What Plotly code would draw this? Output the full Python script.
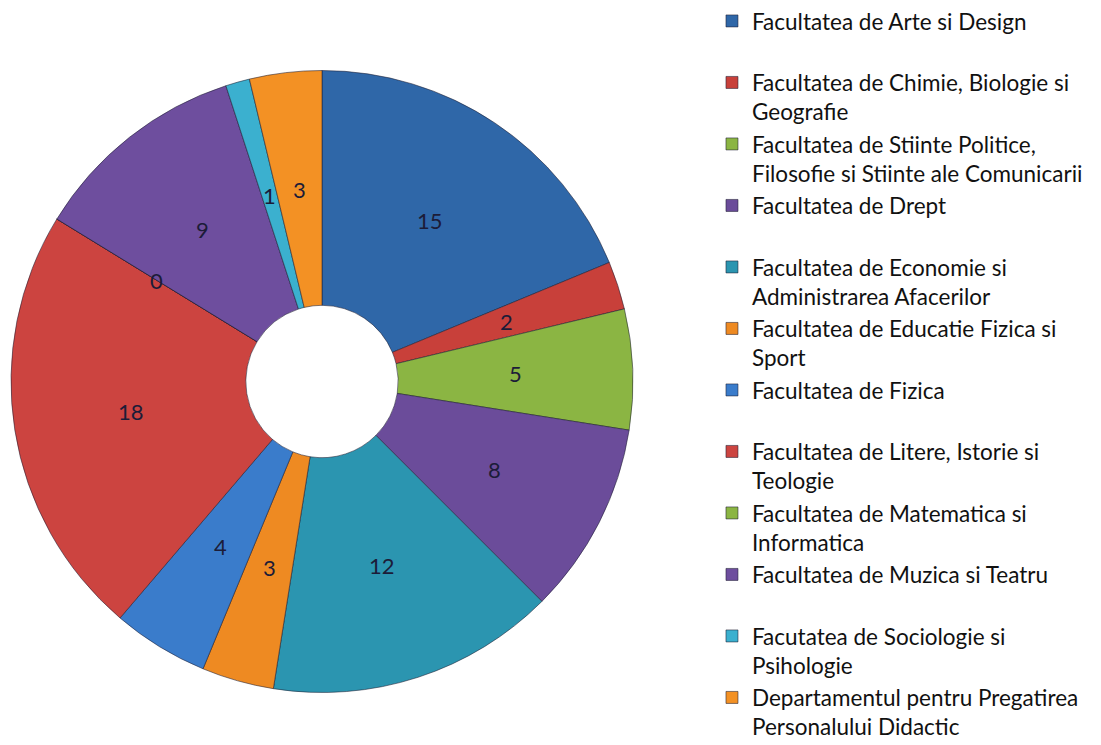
import math

import plotly.graph_objects as go

faculties = [
    "Facultatea de Arte si Design",
    "Facultatea de Chimie, Biologie si<br>Geografie",
    "Facultatea de Stiinte Politice,<br>Filosofie si Stiinte ale Comunicarii",
    "Facultatea de Drept",
    "Facultatea de Economie si<br>Administrarea Afacerilor",
    "Facultatea de Educatie Fizica si<br>Sport",
    "Facultatea de Fizica",
    "Facultatea de Litere, Istorie si<br>Teologie",
    "Facultatea de Matematica si<br>Informatica",
    "Facultatea de Muzica si Teatru",
    "Facutatea de Sociologie si<br>Psihologie",
    "Departamentul pentru Pregatirea<br>Personalului Didactic",
]
counts = [15, 2, 5, 8, 12, 3, 4, 18, 0, 9, 1, 3]
colors = [
    "#2F67A8", "#C8403A", "#8BB543", "#6B4C9A", "#2B95B0", "#EE8A22",
    "#3A7CCB", "#CC4440", "#8BB543", "#6E4E9E", "#3BB0CF", "#F39124",
]

FONT = "Lato, 'Open Sans', sans-serif"
TEXT = "#1C1C38"

# keep every legend entry two lines tall, like the original
legend_labels = [f if "<br>" in f else f + "<br> " for f in faculties]

W, H = 1101, 745
cx, cy, R = 314, 373.5, 311
hole = 0.245

fig = go.Figure(
    go.Pie(
        labels=legend_labels,
        values=counts,
        sort=False,
        direction="clockwise",
        rotation=0,
        hole=hole,
        marker=dict(colors=colors, line=dict(color="rgba(30,30,50,0.55)", width=1)),
        textinfo="none",
        domain=dict(x=[(cx - R) / W, (cx + R) / W], y=[(H - cy - R) / H, (H - cy + R) / H]),
    )
)

# value labels sit at the middle of the ring, at each slice's mid angle
total = sum(counts)
annotations = []
cum = 0
r_lab = R * (1 + hole) / 2
for v in counts:
    ang = math.radians((cum + v / 2) / total * 360)
    px = cx + r_lab * math.sin(ang)
    py = cy - r_lab * math.cos(ang)
    annotations.append(dict(
        x=px / W, y=1 - py / H, xref="paper", yref="paper", text=str(v),
        xanchor="center", yanchor="middle",
        showarrow=False, font=dict(family=FONT, size=22, color=TEXT),
    ))
    cum += v

fig.update_layout(
    width=W,
    height=H,
    margin=dict(l=0, r=0, t=0, b=0, autoexpand=False),
    paper_bgcolor="white",
    annotations=annotations,
    legend=dict(
        x=0.6394, y=1.011, xanchor="left", yanchor="top",
        font=dict(family=FONT, size=22.5, color="#111111"),
        valign="top",
        itemwidth=30,
        maxheight=900,
    ),
)

fig.write_html("out.html")
